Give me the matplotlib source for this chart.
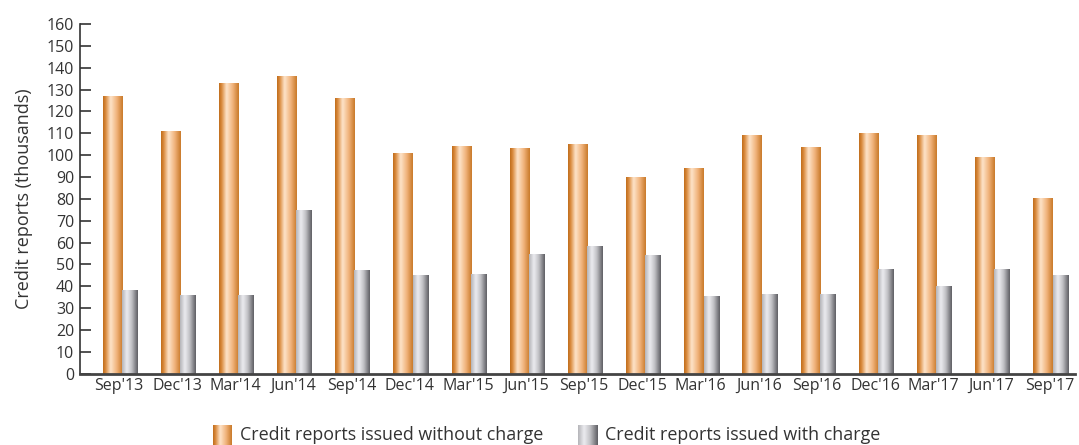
import numpy as np
import matplotlib.pyplot as plt
from matplotlib.colors import LinearSegmentedColormap

quarters = ["Sep'13", "Dec'13", "Mar'14", "Jun'14", "Sep'14", "Dec'14", "Mar'15",
            "Jun'15", "Sep'15", "Dec'15", "Mar'16", "Jun'16", "Sep'16", "Dec'16",
            "Mar'17", "Jun'17", "Sep'17"]
without_charge = [127, 111, 133, 136, 126, 101, 104, 103, 105, 90, 94, 109, 103.5, 110, 109, 99, 80.5]
with_charge = [38, 36, 36, 75, 47.5, 45, 45.5, 54.5, 58.5, 54, 35.5, 36.5, 36.5, 48, 40, 48, 45]

plt.rcParams['font.family'] = ['Open Sans', 'DejaVu Sans']
txt = '#333333'

orange = LinearSegmentedColormap.from_list('o', [(0, '#bf6d1c'), (0.12, '#d9883a'),
                                                 (0.38, '#fee4ca'), (0.7, '#f0b27a'),
                                                 (1, '#c97a2a')])
grey = LinearSegmentedColormap.from_list('g', [(0, '#b4b4b8'), (0.3, '#ececf0'),
                                               (0.6, '#c4c4c8'), (1, '#5f5f64')])
grad = np.linspace(0, 1, 64).reshape(1, -1)

fig = plt.figure(figsize=(10.79, 4.45), dpi=100)
ax = fig.add_axes([0.074, 0.16, 0.922, 0.786])

x = np.arange(len(quarters))
w1, w2 = 0.33, 0.27
for i in range(len(x)):
    ax.imshow(grad, cmap=orange, extent=[x[i] - w1, x[i], 0, without_charge[i]],
              aspect='auto', interpolation='bicubic')
    ax.imshow(grad, cmap=grey, extent=[x[i], x[i] + w2, 0, with_charge[i]],
              aspect='auto', interpolation='bicubic')

ax.set_xlim(-0.72, len(x) - 0.62)
ax.set_ylim(0, 160)
ax.set_yticks(range(0, 161, 10))
ax.set_xticks(x - 0.05)
ax.set_xticklabels(quarters, fontsize=11.5, color=txt)
ax.tick_params(axis='x', length=0, pad=3)
ax.tick_params(axis='y', direction='in', length=8, width=1.2, color='#333333',
               labelsize=11.5, labelcolor=txt, pad=4)
for s in ['top', 'right']:
    ax.spines[s].set_visible(False)
ax.spines['left'].set_linewidth(1.2)
ax.spines['left'].set_color('#333333')
ax.spines['bottom'].set_linewidth(2)
ax.spines['bottom'].set_color('#444444')
ax.set_ylabel('Credit reports (thousands)', fontsize=13, color=txt, labelpad=10)

# legend
for left, cmap, label in [(213, orange, 'Credit reports issued without charge'),
                          (578, grey, 'Credit reports issued with charge')]:
    lax = fig.add_axes([left / 1079, 0.0, 19 / 1079, 20 / 445])
    lax.imshow(grad, cmap=cmap, aspect='auto', interpolation='bicubic')
    lax.axis('off')
    fig.text((left + 27) / 1079, 10 / 445, label, fontsize=12.9, color=txt, va='center')

fig.savefig('out.png', dpi=100)
